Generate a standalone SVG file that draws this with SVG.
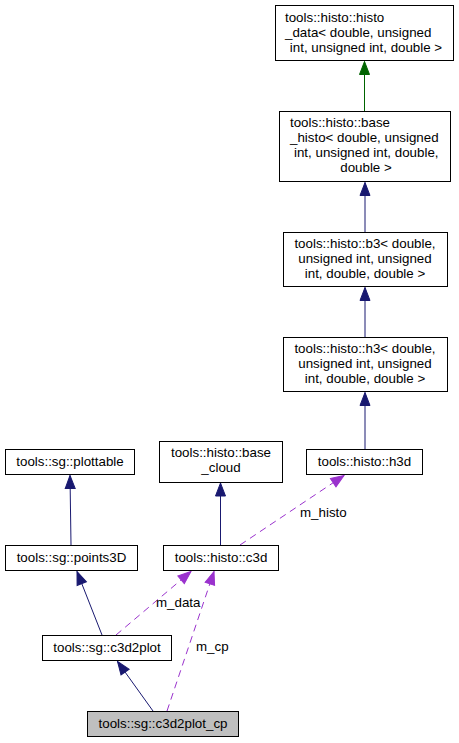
<svg xmlns="http://www.w3.org/2000/svg" width="459" height="743" viewBox="0 0 459 743">
<style>
  text { font-family: "Liberation Sans", Arial, sans-serif; font-size: 13.33px; fill: #000; }
  .c { text-anchor: middle; }
  .s { text-anchor: start; }
  rect.n { fill: #ffffff; stroke: #000; stroke-width: 1; }
  rect.cur { fill: #bfbfbf; stroke: #000; stroke-width: 1; }
  .inh { fill: none; stroke: #191970; stroke-width: 1; marker-end: url(#an); }
  .pub { fill: none; stroke: #006400; stroke-width: 1; marker-end: url(#ag); }
  .use { fill: none; stroke: #9a32cd; stroke-width: 1; stroke-dasharray: 7,5; marker-end: url(#ap); }
</style>
<defs>
  <marker id="an" markerWidth="14" markerHeight="12" refX="13" refY="5" orient="auto" markerUnits="userSpaceOnUse" overflow="visible"><path d="M0,0 L13,5 L0,10 z" fill="#191970" stroke="#191970" stroke-width="1" stroke-dasharray="none"/></marker>
  <marker id="ag" markerWidth="14" markerHeight="12" refX="13" refY="5" orient="auto" markerUnits="userSpaceOnUse" overflow="visible"><path d="M0,0 L13,5 L0,10 z" fill="#006400" stroke="#006400" stroke-width="1" stroke-dasharray="none"/></marker>
  <marker id="ap" markerWidth="14" markerHeight="12" refX="13" refY="5" orient="auto" markerUnits="userSpaceOnUse" overflow="visible"><path d="M0,0 L13,5 L0,10 z" fill="#9a32cd" stroke="#9a32cd" stroke-width="1" stroke-dasharray="none"/></marker>
</defs>

<g id="connectors">
  <path class="pub" d="M364.5,111 L364.5,61.5"/>
  <path class="inh" d="M365,232 L365,182.5"/>
  <path class="inh" d="M365,337 L365,287.5"/>
  <path class="inh" d="M365,449 L365,392.5"/>
  <path class="inh" d="M71,545 L70,475.5"/>
  <path class="inh" d="M220.5,545 L220.5,483"/>
  <path class="inh" d="M102,635 L77,571.5"/>
  <path class="inh" d="M153,711 L117.5,661.5"/>
  <path class="use" d="M240,545 L344,475.5"/>
  <path class="use" d="M116,635 L191,571.5"/>
  <path class="use" d="M167,711 L214,571.5"/>
  <text class="s" x="300" y="517">m_histo</text>
  <text class="s" x="156" y="607">m_data</text>
  <text class="s" x="196" y="651">m_cp</text>
</g>

<g id="histo_data">
  <rect class="n" x="275.5" y="5.5" width="178" height="55"/>
  <text class="s" x="285" y="21.5">tools::histo::histo</text>
  <text class="s" x="285" y="36.5">_data&lt; double, unsigned</text>
  <text class="c" x="366" y="51.5">int, unsigned int, double &gt;</text>
</g>

<g id="base_histo">
  <rect class="n" x="279.5" y="111.5" width="171" height="70"/>
  <text class="s" x="290" y="127">tools::histo::base</text>
  <text class="s" x="290" y="142">_histo&lt; double, unsigned</text>
  <text class="s" x="294" y="157">int, unsigned int, double,</text>
  <text class="c" x="366" y="172">double &gt;</text>
</g>

<g id="b3">
  <rect class="n" x="283.5" y="232.5" width="164" height="54"/>
  <text class="c" x="365" y="248">tools::histo::b3&lt; double,</text>
  <text class="c" x="365" y="263">unsigned int, unsigned</text>
  <text class="c" x="365" y="278">int, double, double &gt;</text>
</g>

<g id="h3">
  <rect class="n" x="283.5" y="337.5" width="164" height="54"/>
  <text class="c" x="365" y="353">tools::histo::h3&lt; double,</text>
  <text class="c" x="365" y="368">unsigned int, unsigned</text>
  <text class="c" x="365" y="383">int, double, double &gt;</text>
</g>

<g id="h3d">
  <rect class="n" x="306.5" y="449.5" width="116" height="25"/>
  <text class="c" x="364.5" y="466">tools::histo::h3d</text>
</g>

<g id="plottable">
  <rect class="n" x="5.5" y="449.5" width="129" height="25"/>
  <text class="c" x="70" y="466">tools::sg::plottable</text>
</g>

<g id="base_cloud">
  <rect class="n" x="159.5" y="441.5" width="123" height="41"/>
  <text class="c" x="221" y="457">tools::histo::base</text>
  <text class="c" x="221" y="472">_cloud</text>
</g>

<g id="points3D">
  <rect class="n" x="5.5" y="545.5" width="132" height="25"/>
  <text class="c" x="71.5" y="562">tools::sg::points3D</text>
</g>

<g id="c3d">
  <rect class="n" x="163.5" y="545.5" width="115" height="25"/>
  <text class="c" x="221" y="562">tools::histo::c3d</text>
</g>

<g id="c3d2plot">
  <rect class="n" x="42.5" y="635.5" width="129" height="25"/>
  <text class="c" x="107" y="652">tools::sg::c3d2plot</text>
</g>

<g id="c3d2plot_cp">
  <rect class="cur" x="87.5" y="711.5" width="151" height="25"/>
  <text class="c" x="163" y="728">tools::sg::c3d2plot_cp</text>
</g>
</svg>
